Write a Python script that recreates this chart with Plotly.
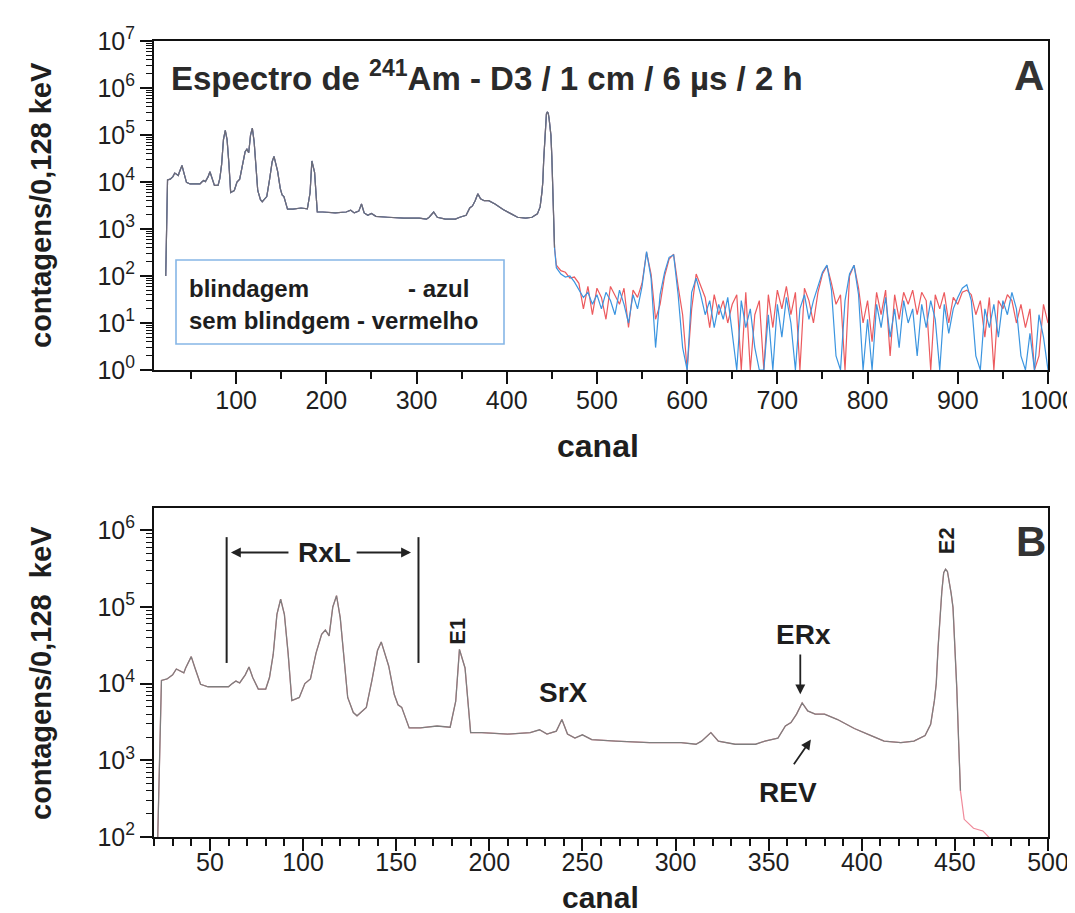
import plotly.graph_objects as go

# ---------------- data ----------------
# main 241Am spectrum (channel, counts per 0.128 keV)
spec_ch = [22, 24, 27, 30, 32, 34, 36, 37, 40, 42,
           45, 49, 55, 60, 62, 64, 66, 69, 71, 73,
           76, 80, 82, 84, 86, 88, 90, 92, 94, 98,
           101, 104, 107, 110, 112, 114, 116, 118, 120, 122,
           124, 127, 129, 131, 134, 137, 140, 142, 144, 146,
           149, 151, 153, 155, 157, 163, 172, 179, 182, 184,
           187, 190, 196, 210, 222, 227, 231, 236, 239, 242,
           246, 250, 255, 268, 286, 303, 311, 314, 319, 323,
           332, 343, 348, 355, 359, 362, 365, 368, 371, 375,
           380, 387, 396, 405, 412, 421, 428, 434, 437, 439,
           440, 441, 442, 443, 444, 445, 446, 447, 448, 449,
           450, 451, 452, 453]
spec_counts = [100, 11000, 11500, 13000, 15500, 14500, 13800, 16000, 22500, 16000,
               9800, 9100, 9100, 9100, 10000, 10800, 10200, 13000, 16500, 12000,
               8500, 8500, 12000, 24000, 80000, 126000, 80000, 25000, 6000, 6600,
               10000, 11500, 25000, 44000, 50000, 42000, 100000, 140000, 72000, 20000,
               6600, 4200, 3800, 4200, 4900, 11000, 27000, 35000, 25000, 17000,
               7200, 5300, 4900, 3500, 2650, 2650, 2800, 2700, 5900, 28000,
               16000, 2300, 2300, 2200, 2300, 2500, 2200, 2400, 3400, 2200,
               1950, 2150, 1860, 1780, 1700, 1700, 1620, 1780, 2300, 1780,
               1620, 1620, 1780, 1950, 2800, 3100, 4000, 5600, 4400, 4000,
               4000, 3400, 2600, 2100, 1780, 1700, 1780, 2100, 2950, 6000,
               10000, 30000, 72000, 160000, 280000, 310000, 290000, 220000, 150000, 98000,
               35000, 9000, 1800, 400]

# high-channel tail (noisy part), with shielding (blue) and without (red)
tail_ch = [455, 460, 465, 470, 475, 480, 485, 490, 495, 500,
           505, 510, 515, 520, 525, 530, 535, 540, 545, 550,
           555, 560, 565, 570, 575, 580, 585, 590, 595, 600,
           605, 610, 615, 620, 625, 630, 635, 640, 645, 650,
           655, 660, 665, 670, 675, 680, 685, 690, 695, 700,
           705, 710, 715, 720, 725, 730, 735, 740, 745, 750,
           755, 760, 765, 770, 775, 780, 785, 790, 795, 800,
           805, 810, 815, 820, 825, 830, 835, 840, 845, 850,
           855, 860, 865, 870, 875, 880, 885, 890, 895, 900,
           905, 910, 915, 920, 925, 930, 935, 940, 945, 950,
           955, 960, 965, 970, 975, 980, 985, 990, 995, 1000]
tail_blue = [150, 110, 95, 100, 75, 50, 35, 45, 25, 40,
             20, 45, 30, 15, 50, 25, 10, 40, 20, 60,
             330, 90, 3, 40, 120, 250, 280, 40, 3, 1,
             45, 90, 40, 15, 30, 8, 25, 12, 35, 6,
             1, 30, 8, 20, 3, 1, 1, 15, 1, 25,
             5, 35, 10, 1, 20, 40, 12, 30, 60, 120,
             170, 50, 2, 1, 30, 110, 170, 40, 1, 12,
             1, 25, 8, 35, 5, 20, 3, 30, 10, 20,
             2, 25, 8, 30, 12, 1, 25, 6, 20, 35,
             55, 65, 30, 2, 1, 20, 8, 25, 5, 30,
             15, 45, 20, 2, 1, 6, 1, 15, 5, 1]
tail_red = [170, 130, 120, 90, 95, 70, 20, 60, 15, 55,
            35, 12, 60, 40, 25, 55, 8, 50, 35, 70,
            320, 110, 12, 25, 100, 230, 290, 60, 15, 1,
            20, 110, 60, 35, 8, 40, 15, 30, 10, 25,
            40, 1, 45, 1, 15, 30, 1, 40, 8, 50,
            20, 60, 15, 45, 1, 55, 30, 10, 45, 110,
            165, 70, 25, 40, 1, 100, 170, 55, 10, 30,
            4, 45, 15, 50, 2, 40, 12, 45, 25, 50,
            15, 45, 30, 1, 40, 20, 45, 10, 35, 25,
            45, 50, 40, 15, 30, 5, 35, 1, 30, 20,
            40, 30, 10, 25, 8, 20, 1, 2, 25, 10]

# axis ticks
tickA_x = [100, 200, 300, 400, 500, 600, 700, 800, 900, 1000]
tickB_x = [50, 100, 150, 200, 250, 300, 350, 400, 450, 500]
decA = [0, 1, 2, 3, 4, 5, 6, 7]
decB = [2, 3, 4, 5, 6]

FONT = "Liberation Sans, Arial, sans-serif"
TXT = "#1e1e1e"

fig = go.Figure()

# ---------------- panel A ----------------
full_ch = spec_ch + tail_ch
fig.add_trace(go.Scatter(x=full_ch, y=spec_counts + tail_red, mode="lines",
                         line=dict(color="#ec5a5e", width=1.2),
                         xaxis="x", yaxis="y", name="sem blindagem"))
fig.add_trace(go.Scatter(x=full_ch, y=spec_counts + tail_blue, mode="lines",
                         line=dict(color="#3b95e0", width=1.2),
                         xaxis="x", yaxis="y", name="blindagem"))
fig.add_trace(go.Scatter(x=spec_ch, y=spec_counts, mode="lines",
                         line=dict(color="#6c6c76", width=1.2),
                         xaxis="x", yaxis="y", name="espectro"))

# ---------------- panel B ----------------
fig.add_trace(go.Scatter(x=full_ch, y=spec_counts + tail_red, mode="lines",
                         line=dict(color="#f08a9a", width=1.2),
                         xaxis="x2", yaxis="y2", name="sem blindagem B"))
fig.add_trace(go.Scatter(x=spec_ch, y=spec_counts, mode="lines",
                         line=dict(color="#7e7e7e", width=1.3),
                         xaxis="x2", yaxis="y2", name="espectro B"))

# RxL bracket lines
for c in (59, 162):
    fig.add_trace(go.Scatter(x=[c, c], y=[18600, 813000], mode="lines",
                             line=dict(color="#222", width=2),
                             xaxis="x2", yaxis="y2", hoverinfo="skip"))

W, H = 1075, 913
xdom = [146 / W, 1040 / W]
ydomA = [1 - 362 / H, 1 - 33 / H]
ydomB = [1 - 829 / H, 1 - 500 / H]

def sup(d):
    return "10<sup>%d</sup>" % d

common_axis = dict(showline=True, linewidth=2, linecolor="#111", mirror=True,
                   showgrid=False, zeroline=False, ticks="outside", automargin=False,
                   tickcolor="#111", tickwidth=2,
                   tickfont=dict(family=FONT, size=25, color=TXT))

minorA_y = [m * 10 ** d for d in range(0, 7) for m in range(2, 10)]
minorB_y = [m * 10 ** d for d in range(2, 6) for m in range(2, 10)] + [2e6]

fig.update_layout(
    width=W, height=H,
    margin=dict(l=0, r=0, t=0, b=0, autoexpand=False),
    paper_bgcolor="white", plot_bgcolor="white",
    showlegend=False,
    font=dict(family=FONT, color=TXT),
    xaxis=dict(domain=xdom, anchor="y", range=[9, 1000],
               tickmode="array", tickvals=tickA_x, ticklen=12, ticklabelstandoff=-5,
               minor=dict(ticks="outside", ticklen=7, tickwidth=1.5, tickcolor="#111",
                          tickvals=[50, 150, 250, 350, 450, 550, 650, 750, 850, 950]),
               **common_axis),
    yaxis=dict(domain=ydomA, anchor="x", type="log", range=[0, 7],
               tickmode="array", tickvals=[10 ** d for d in decA],
               ticktext=[sup(d) for d in decA], ticklen=12,
               minor=dict(ticks="outside", ticklen=6, tickwidth=1.2, tickcolor="#111",
                          tickvals=minorA_y),
               **common_axis),
    xaxis2=dict(domain=xdom, anchor="y2", range=[20, 500],
                tickmode="array", tickvals=tickB_x, ticklen=12, ticklabelstandoff=-10,
                minor=dict(ticks="outside", ticklen=7, tickwidth=1.5, tickcolor="#111",
                           dtick=10, tick0=0),
                **common_axis),
    yaxis2=dict(domain=ydomB, anchor="x2", type="log", range=[2, 6.29],
                tickmode="array", tickvals=[10 ** d for d in decB],
                ticktext=[sup(d) for d in decB], ticklen=12,
                minor=dict(ticks="outside", ticklen=6, tickwidth=1.2, tickcolor="#111",
                           tickvals=minorB_y),
                **common_axis),
)

ann = []

def ptext(x, y, text, size, xanchor="center", angle=0, color=TXT):
    return dict(xref="paper", yref="paper", x=x / W, y=1 - y / H, xanchor=xanchor,
                yanchor="middle", text=text, showarrow=False, textangle=angle,
                font=dict(size=size, color=color))

# titles / axis labels (paper coords, given in pixels)
ann.append(ptext(161, 68, "<b>Espectro de <sup>241</sup>Am - D3 / 1 cm / 6 µs / 2 h</b>", 33,
                 "left", color="#2a2a2a"))
ann.append(ptext(1021, 67, "<b>A</b>", 42, color="#333"))
ann.append(ptext(1023, 533, "<b>B</b>", 42, color="#333"))
ann.append(ptext(33, 197, "<b>contagens/0,128 keV</b>", 29, angle=-90))
ann.append(ptext(33, 665, "<b>contagens/0,128  keV</b>", 29, angle=-90))
ann.append(ptext(590, 438, "<b>canal</b>", 32))
ann.append(ptext(592, 889, "<b>canal</b>", 30))
# legend box text
ann.append(ptext(179, 281, "<b>blindagem</b>", 24, "left"))
ann.append(ptext(398, 281, "<b>- azul</b>", 24, "left"))
ann.append(ptext(179, 313, "<b>sem blindgem - vermelho</b>", 24, "left"))

# panel B labels (data coords; y in log10 units)
def lab(x, y, text, size=28, angle=0):
    return dict(xref="x2", yref="y2", x=x, y=y, text="<b>%s</b>" % text, showarrow=False,
                xanchor="center", yanchor="middle",
                textangle=angle, font=dict(size=size, color=TXT))

ann.append(lab(111.8, 5.71, "RxL"))
ann.append(lab(183.2, 4.69, "E1", 22, -90))
ann.append(lab(239.6, 3.88, "SrX"))
ann.append(lab(368.5, 4.64, "ERx"))
ann.append(lab(360.4, 2.575, "REV"))
ann.append(lab(445.2, 5.87, "E2", 22, -90))

def arrow(x, y, ax, ay):
    return dict(xref="x2", yref="y2", axref="x2", ayref="y2", x=x, y=y, ax=ax, ay=ay,
                text="", showarrow=True, arrowhead=2, arrowsize=1.1, arrowwidth=1.8,
                arrowcolor="#222")

ann.append(arrow(61.3, 5.71, 93, 5.71))
ann.append(arrow(158, 5.71, 128, 5.71))
ann.append(arrow(367, 3.86, 367, 4.40))
ann.append(arrow(372.7, 3.27, 363, 2.93))

fig.update_layout(annotations=ann)

fig.add_shape(type="rect", xref="paper", yref="paper",
              x0=168 / W, x1=496 / W, y0=1 - 336 / H, y1=1 - 252 / H,
              line=dict(color="#86b6e6", width=1.6), fillcolor="rgba(0,0,0,0)")

fig.write_html("out.html")
